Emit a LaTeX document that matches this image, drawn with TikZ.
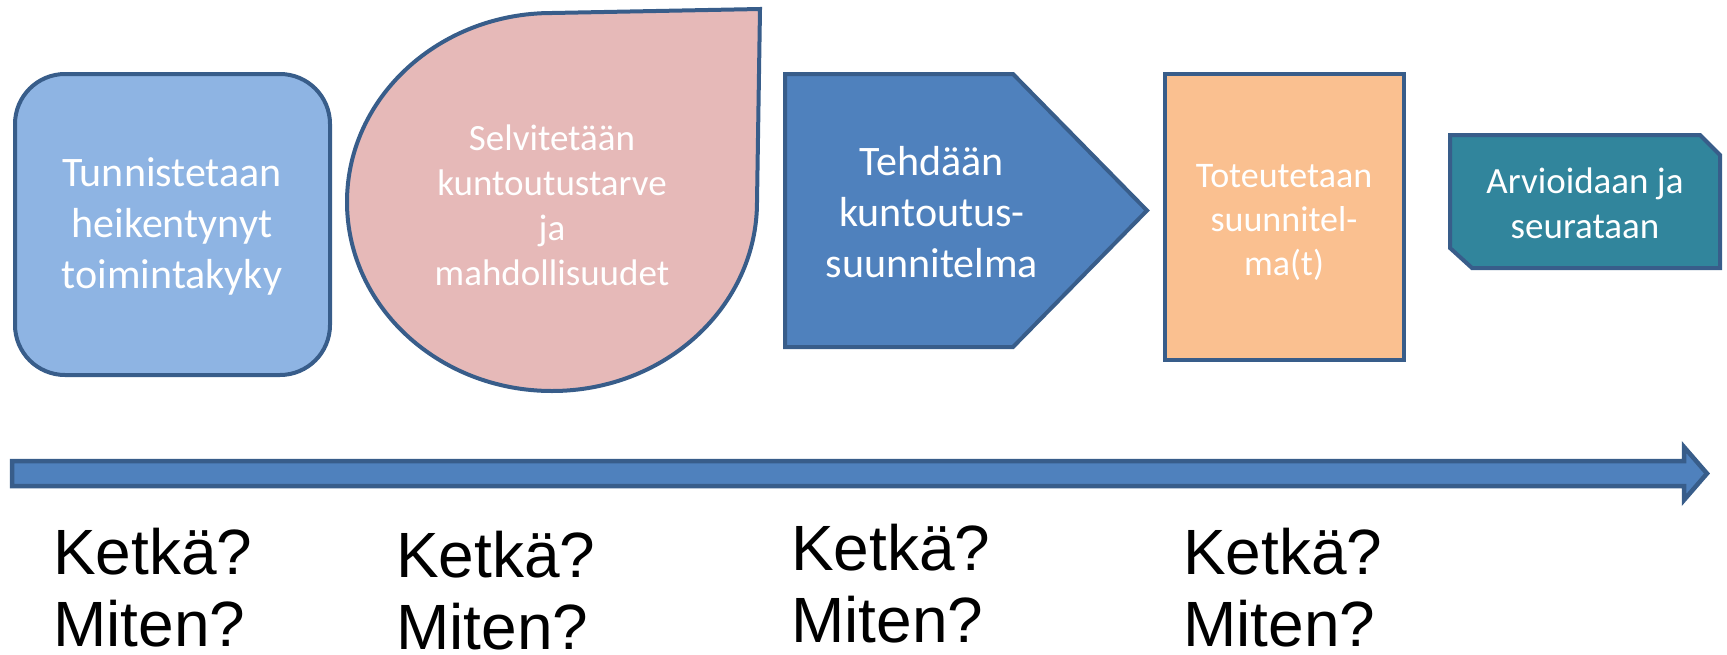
\documentclass[tikz,border=0pt]{standalone}
\usepackage{fontspec}
\setmainfont{Carlito}
\newfontfamily\arialfont{Liberation Sans}
\definecolor{edgeblue}{HTML}{385D8A}
\definecolor{lightblue}{HTML}{8EB4E3}
\definecolor{pinkfill}{HTML}{E6B9B8}
\definecolor{midblue}{HTML}{4F81BD}
\definecolor{orangefill}{HTML}{FAC090}
\definecolor{tealfill}{HTML}{31859C}
\tikzset{
  shapeline/.style={draw=edgeblue, line width=4pt},
  lbl/.style={text=white, align=center, inner sep=0pt},
  bigq/.style={font=\arialfont\fontsize{64}{72}\selectfont, anchor=base west, inner sep=0pt, text=black}
}
\begin{document}
\begin{tikzpicture}[x=1pt,y=-1pt]
\useasboundingbox (0,0) rectangle (1727,654);
% shapes
\draw[shapeline, fill=lightblue, rounded corners=50pt] (15,74) rectangle (330,375);
\draw[shapeline, fill=pinkfill] (760,9) -- (757,202) arc[start angle=0, end angle=270, x radius=205, y radius=189] -- cycle;
\draw[shapeline, fill=midblue] (785,74) -- (1013,74) -- (1147,210.5) -- (1013,347) -- (785,347) -- cycle;
\draw[shapeline, fill=orangefill] (1165,74) rectangle (1404,360);
\draw[shapeline, fill=tealfill] (1450,135) -- (1700,135) -- (1720,155) -- (1720,268) -- (1472,268) -- (1450,248) -- cycle;
% timeline arrow
\draw[draw=edgeblue, line width=4.5pt, fill=midblue, line join=miter] (12,461) -- (1684,461) -- (1684,447) -- (1707,473.5) -- (1684,500) -- (1684,486) -- (12,486) -- cycle;
% labels
\node[lbl, font=\fontsize{42}{51}\selectfont] (t1) at (172,226) {Tunnistetaan\\heikentynyt\\toimintakyky};
\node[lbl, font=\fontsize{37}{45}\selectfont] (t2) at (552,205) {Selvitetään\\kuntoutustarve\\ja\\mahdollisuudet};
\node[lbl, font=\fontsize{42}{51}\selectfont] (t3) at (932,212) {Tehdään\\kuntoutus-\\suunnitelma};
\node[lbl, font=\fontsize{36}{44}\selectfont] (t4) at (1284,222) {Toteutetaan\\suunnitel-\\ma(t)};
\node[lbl, font=\fontsize{37}{45}\selectfont] (t5) at (1585,203) {Arvioidaan ja\\seurataan};
% questions
\node[bigq] (k1) at (53,574) {Ketkä?};
\node[bigq] (m1) at (53,646) {Miten?};
\node[bigq] (k2) at (396,577) {Ketkä?};
\node[bigq] (m2) at (396,649) {Miten?};
\node[bigq] (k3) at (791,570) {Ketkä?};
\node[bigq] (m3) at (791,642) {Miten?};
\node[bigq] (k4) at (1183,574) {Ketkä?};
\node[bigq] (m4) at (1183,646) {Miten?};
\end{tikzpicture}
\end{document}
